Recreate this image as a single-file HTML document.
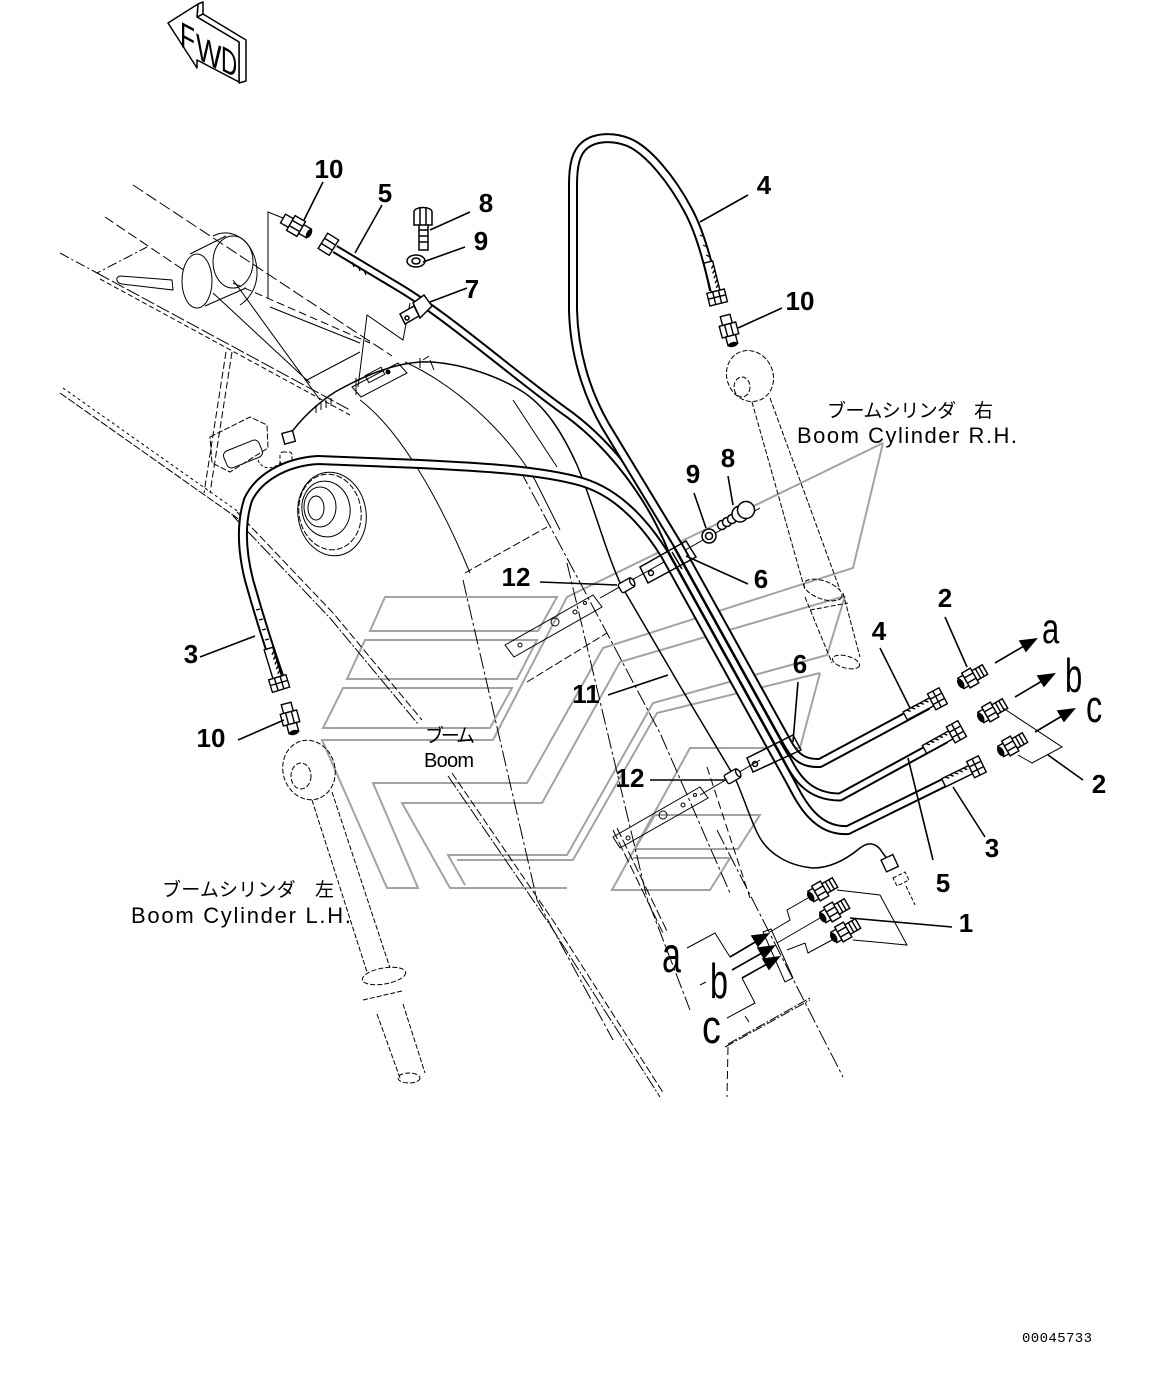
<!DOCTYPE html>
<html><head><meta charset="utf-8"><style>
html,body{margin:0;padding:0;background:#fff;}
svg{display:block;}
.n{font-family:"Liberation Sans",sans-serif;font-weight:bold;font-size:26px;fill:#000;text-anchor:middle;}
.L{font-family:"Liberation Sans",sans-serif;fill:#000;}
.t{font-family:"Liberation Sans","Noto Sans CJK JP",sans-serif;fill:#000;}
</style></head><body>
<svg width="1166" height="1377" viewBox="0 0 1166 1377" xmlns="http://www.w3.org/2000/svg">
<defs>
<g id="f2" stroke="#000" stroke-width="1.4" fill="#fff">
<rect x="-13" y="-6" width="6" height="12"/>
<ellipse cx="-13" cy="0" rx="3" ry="5.5" fill="#000" stroke="none"/>
<rect x="-7" y="-8.5" width="10" height="17"/>
<line x1="-7" y1="-3" x2="3" y2="-3"/><line x1="-7" y1="3" x2="3" y2="3"/>
<rect x="3" y="-5.5" width="12" height="11"/>
<path d="M7,-5.5v11 M11,-5.5v11" fill="none"/>
</g>
<g id="f10" stroke="#000" stroke-width="1.4" fill="#fff">
<rect x="-15" y="-5" width="9" height="10"/>
<rect x="-6" y="-8.5" width="12" height="17"/>
<line x1="-6" y1="-3" x2="6" y2="-3"/><line x1="-6" y1="3" x2="6" y2="3"/>
<rect x="6" y="-5" width="9" height="10"/>
<ellipse cx="15" cy="0" rx="2.5" ry="5" fill="#000" stroke="none"/>
</g>
<g id="hend" stroke="#000" stroke-width="1.4" fill="#fff">
<rect x="-36" y="-4.5" width="30" height="9"/>
<path d="M-32,-4.5 l3,3 M-27,-4.5 l3,3 M-22,-4.5 l3,3 M-17,-4.5 l3,3 M-12,-4.5 l3,3" fill="none"/>
<rect x="-6" y="-9" width="13" height="18"/>
<line x1="-6" y1="-3" x2="7" y2="-3"/><line x1="-6" y1="3" x2="7" y2="3"/>
<line x1="0" y1="-9" x2="0" y2="9"/>
</g>
<g id="c12" stroke="#000" stroke-width="1.4" fill="#fff">
<rect x="-8" y="-5" width="15" height="10" rx="2"/>
<ellipse cx="6" cy="0" rx="2" ry="4"/>
</g>
</defs>

<!-- WATERMARK -->
<g fill="none" stroke="#a3a3a3" stroke-width="2" stroke-linejoin="miter">
<polygon points="385,597 557,597 538,631 370,631"/>
<polygon points="365,640 537,640 517,679 347,679"/>
<polygon points="343,688 512,688 490,728 323,728"/>
<polyline points="883,443 567,597 493,740 322,740 387,888 418,888 373,783 527,783 603,648 853,568 883,443"/>
<polyline points="845,596 620,662 542,803 402,803 450,888 567,888"/>
<polyline points="845,596 827,655 653,703 567,855 448,855 465,885"/>
<polyline points="820,673 657,713 573,860 457,860"/>
<polyline points="820,673 800,748 690,748 612,890 710,890 730,858 633,858"/>
<polygon points="655,815 760,815 738,849 635,849"/>
</g>

<!-- FWD arrow -->
<g fill="#fff" stroke="#000" stroke-width="1.5" stroke-linejoin="round">
<polygon points="197,17 203,14 246,40 246,81 239,83 239,42"/>
<polygon points="198,4 203,2 203,14 197,17"/>
<polygon points="168,23 198,4 197,17 239,42 239,82 197,60 197,68"/>
</g>
<g class="L" font-size="36">
<text transform="translate(180,46) skewY(28) scale(0.68,1)">F</text>
<text transform="translate(196,58) skewY(28) scale(0.75,1)">W</text>
<text transform="translate(221,70) skewY(28) scale(0.62,1)">D</text>
</g>

<!-- upper-left boom structure -->
<g fill="none" stroke="#000" stroke-width="1">
<path d="M133,185 L392,356" stroke-dasharray="12 4"/>
<path d="M105,217 L197,279" stroke-dasharray="10 4"/>
<path d="M60,253 L97,273 L147,247" stroke-dasharray="10 3 2 3"/>
<path d="M97,273 L350,410" stroke-dasharray="14 3"/>
<path d="M100,279 L350,415" stroke-dasharray="5 3"/>
<path d="M60,393 L240,520" stroke-dasharray="8 2"/>
<path d="M63,388 L243,515" stroke-dasharray="3 3"/>
<path d="M232,352 L210,493" stroke-dasharray="7 3"/>
<path d="M226,352 L204,493" stroke-dasharray="7 3"/>
<!-- pivot -->
<ellipse cx="233" cy="262" rx="20" ry="26"/>
<path d="M190,254 L226,236 M205,306 L246,288"/>
<ellipse cx="197" cy="281" rx="15" ry="27" fill="#fff"/>
<path d="M213,236 C235,225 258,245 257,275 C256,290 248,300 240,305"/>
<path d="M120,276 L172,280 L173,290 L122,284 C116,283 115,277 120,276 Z" fill="#fff"/>
<path d="M233,280 L320,400 M213,293 L310,383 M270,307 L360,343 M307,380 L360,352"/>
<path d="M233,283 L370,343" stroke-dasharray="8 4"/>
<path d="M268,298 L268,212 L283,218"/>
<path d="M358,387 L367,315 L403,340 L410,303"/>
<!-- sensor box -->
<polygon points="210,437 250,417 267,425 268,448 230,472 212,463" stroke-dasharray="6 2"/>
<rect x="224" y="445" width="38" height="18" rx="5" transform="rotate(-22 243 454)"/>
<rect x="280" y="452" width="12" height="13" rx="3" stroke-dasharray="4 2"/>
<path d="M258,460 C262,470 272,470 282,462" stroke-dasharray="3 2"/>
<!-- small plate near wire -->
<polygon points="352,387 398,363 407,373 361,397"/>
<rect x="366" y="371" width="18" height="8" transform="rotate(-28 375 375)"/>
<circle cx="388" cy="372" r="2" fill="#000"/>
<path d="M356,378 L356,395 M430,360 l4,10" />
</g>
<!-- wire 11 -->
<path d="M288,437 C300,420 315,405 335,392 C360,378 390,364 420,362 C450,361 490,372 520,390 C545,405 562,432 577,465 C592,500 605,550 621,585 L680,686 L735,778 C745,800 752,825 760,838 C770,855 790,866 813,868 C832,868 848,858 860,848 C868,842 876,842 882,852 L888,860" fill="none" stroke="#000" stroke-width="1.5"/>
<g stroke="#000" stroke-width="1" fill="none">
<path d="M316,405 v8 M321,402 v8 M326,400 v8 M331,398 v8 M420,358 v10 M423,360 l6,-4"/>
</g>
<rect x="283" y="432" width="11" height="11" fill="#fff" stroke="#000" stroke-width="1.4" transform="rotate(-15 288 437)"/>
<rect x="883" y="857" width="13" height="13" fill="#fff" stroke="#000" stroke-width="1.4" transform="rotate(-25 889 863)"/>
<path d="M893,878 l12,-6 l4,8 l-12,6 Z M906,886 L915,905" fill="none" stroke="#000" stroke-width="1" stroke-dasharray="4 2"/>

<!-- boom lines -->
<g fill="none" stroke="#000" stroke-width="1">
<path d="M233,516 L330,618 L418,724" stroke-dasharray="14 2 2 2"/>
<path d="M237,512 L334,614 L422,720" stroke-dasharray="8 3"/>
<path d="M448,776 L550,925 L660,1097" stroke-dasharray="14 2 2 2"/>
<path d="M452,773 L554,922 L664,1094" stroke-dasharray="8 3"/>
<path d="M360,400 C400,430 440,500 470,573"/>
<path d="M405,362 C455,385 505,430 535,480 L560,530"/>
<path d="M513,400 L557,467"/>
<path d="M520,470 L600,620 L660,733 L730,893" stroke-dasharray="16 3 3 3"/>
<path d="M463,580 L537,900 L613,1040" stroke-dasharray="16 3 3 3"/>
<path d="M567,563 L647,898 L690,1010" stroke-dasharray="16 3 3 3"/>
<path d="M613,830 L663,933 M617,828 L667,931" stroke-dasharray="10 3"/>
<path d="M717,830 L843,1077" stroke-dasharray="16 3 3 3"/>
<path d="M707,767 L750,898" stroke-dasharray="8 4"/>
<path d="M465,573 L547,527 M527,682 L607,633" stroke-dasharray="8 3"/>
<path d="M760,508 L600,598 M760,760 L700,795"/>
<!-- dimension plates -->
<polygon points="505,645 593,595 602,607 514,657"/>
<circle cx="555" cy="622" r="4"/><circle cx="575" cy="612" r="2"/><circle cx="520" cy="645" r="2"/><circle cx="585" cy="603" r="1.5"/>
<polygon points="613,837 700,787 708,798 620,848"/>
<circle cx="663" cy="815" r="4"/><circle cx="683" cy="805" r="2"/><circle cx="628" cy="838" r="2"/><circle cx="695" cy="795" r="1.5"/>
<!-- bottom plate & hatch -->
<polygon points="763,932 771,929 793,978 785,982"/>
<path d="M725,1047 L810,1000 M728,1044 L810,998" stroke-dasharray="10 2 2 2"/>
<path d="M728,1047 L727,1097" stroke-dasharray="8 4"/>
<path d="M700,985 l6,-3 M745,1016 l4,6"/>
</g>

<!-- boom pivot (center) -->
<g fill="none" stroke="#000" stroke-width="1">
<ellipse cx="332" cy="514" rx="34" ry="42" transform="rotate(-10 332 514)"/>
<ellipse cx="330" cy="512" rx="31" ry="38" transform="rotate(-10 330 512)" stroke-dasharray="6 2"/>
<ellipse cx="326" cy="509" rx="24" ry="28" transform="rotate(-10 326 509)"/>
<ellipse cx="320" cy="507" rx="16" ry="20"/>
<ellipse cx="316" cy="508" rx="8" ry="12"/>
</g>

<!-- R.H. cylinder (dashed) -->
<g fill="none" stroke="#000" stroke-width="1" stroke-dasharray="5 2">
<ellipse cx="750" cy="376" rx="23" ry="26" transform="rotate(-25 750 376)"/>
<ellipse cx="742" cy="387" rx="8" ry="10"/>
<path d="M752,402 L805,590 M770,398 L840,590"/>
<ellipse cx="823" cy="590" rx="20" ry="9" transform="rotate(20 823 590)"/>
<path d="M805,597 L832,663 M843,593 L860,657"/>
<ellipse cx="846" cy="662" rx="14" ry="6" transform="rotate(15 846 662)"/>
<path d="M810,610 L848,603"/>
</g>
<!-- L.H. cylinder (dashed) -->
<g fill="none" stroke="#000" stroke-width="1" stroke-dasharray="5 2">
<ellipse cx="309" cy="770" rx="26" ry="30" transform="rotate(-15 309 770)"/>
<ellipse cx="301" cy="776" rx="10" ry="13"/>
<path d="M312,800 L367,972 M332,792 L390,968"/>
<ellipse cx="384" cy="976" rx="22" ry="8" transform="rotate(-10 384 976)"/>
<path d="M363,1000 L402,991 M377,1014 L400,1078 M403,1004 L425,1073"/>
<ellipse cx="409" cy="1078" rx="11" ry="5"/>
</g>

<!-- HOSES -->
<g fill="none" stroke-linejoin="round" stroke-linecap="butt">
<path d="M279,676 C270,650 258,612 249,580 C242,552 240,525 248,500 C258,478 285,462 318,460 L420,464 C480,467 540,470 582,482 C615,492 642,518 665,555 L790,781 C800,800 815,832 848,830 L968,771" stroke="#000" stroke-width="10"/>
<path d="M279,676 C270,650 258,612 249,580 C242,552 240,525 248,500 C258,478 285,462 318,460 L420,464 C480,467 540,470 582,482 C615,492 642,518 665,555 L790,781 C800,800 815,832 848,830 L968,771" stroke="#fff" stroke-width="6"/>
<path d="M335,249 L400,288 C450,318 520,380 570,415 C610,445 650,495 672,551 L786,757 C794,772 805,797 840,797 L946,739" stroke="#000" stroke-width="9"/>
<path d="M335,249 L400,288 C450,318 520,380 570,415 C610,445 650,495 672,551 L786,757 C794,772 805,797 840,797 L946,739" stroke="#fff" stroke-width="5"/>
<path d="M714,290 C708,262 700,232 688,210 C672,180 648,150 628,142 C612,136 595,137 585,145 C576,152 573,165 573,185 L573,310 C574,350 585,390 605,425 L679,547 L787,742 C793,753 800,764 820,763 L928,705" stroke="#000" stroke-width="10"/>
<path d="M714,290 C708,262 700,232 688,210 C672,180 648,150 628,142 C612,136 595,137 585,145 C576,152 573,165 573,185 L573,310 C574,350 585,390 605,425 L679,547 L787,742 C793,753 800,764 820,763 L928,705" stroke="#fff" stroke-width="6"/>
</g>
<!-- hose ticks -->
<g stroke="#000" stroke-width="1.2" fill="none">
<path d="M700,235 l4,2 M703,245 l4,2 M706,255 l4,2 M708,265 l4,2"/>
<path d="M256,610 l4,-1 M259,620 l4,-1 M262,630 l4,-1 M265,640 l4,-1"/>
<path d="M352,262 l2,5 M358,266 l2,5 M364,270 l2,5"/>
</g>
<!-- hose ends -->
<use href="#hend" transform="translate(937,699) rotate(-28)"/>
<use href="#hend" transform="translate(956,732) rotate(-29)"/>
<use href="#hend" transform="translate(976,767) rotate(-26)"/>
<use href="#hend" transform="translate(717,297) rotate(76)"/>
<use href="#hend" transform="translate(279,683) rotate(73)"/>
<g transform="translate(328,244) rotate(212)" stroke="#000" stroke-width="1.4" fill="#fff">
<rect x="-7" y="-9" width="13" height="18"/><line x1="-7" y1="-3" x2="6" y2="-3"/><line x1="-7" y1="3" x2="6" y2="3"/>
</g>

<!-- brackets 6 -->
<g fill="none" stroke="#000" stroke-width="1.5">
<polygon points="640,567 686,541 696,557 648,583"/>
<path d="M672,552 L682,569"/>
<circle cx="651" cy="573" r="2.5"/>
<polygon points="747,758 793,735 801,750 753,772"/>
<path d="M780,742 L789,757"/>
<circle cx="755" cy="764" r="2.5"/>
</g>
<!-- clamp 7 -->
<g fill="#fff" stroke="#000" stroke-width="1.5">
<path d="M413,303 L424,295 L432,306 L420,318 Z"/>
<polygon points="400,314 414,306 419,316 405,324"/>
<circle cx="407" cy="318" r="2"/>
</g>
<!-- clamps 12 -->
<use href="#c12" transform="translate(627,585) rotate(-30)"/>
<use href="#c12" transform="translate(733,776) rotate(-30)"/>

<!-- bolts & washers -->
<g fill="#fff" stroke="#000" stroke-width="1.5">
<rect x="419" y="224" width="9" height="26"/>
<path d="M419,230 h9 M419,236 h9 M419,242 h9" />
<path d="M414,225 L414,212 C414,206 432,206 432,212 L432,225 Z"/>
<line x1="420" y1="208" x2="420" y2="225"/><line x1="426" y1="208" x2="426" y2="225"/>
<ellipse cx="416" cy="261" rx="9" ry="6"/><ellipse cx="416" cy="261" rx="4" ry="3"/>
<circle cx="722" cy="525" r="4.5"/><circle cx="727" cy="522" r="4.5"/><circle cx="732" cy="519" r="4.5"/>
<circle cx="740" cy="514" r="8"/><circle cx="746" cy="510" r="8.5"/>
<circle cx="709" cy="536" r="7"/><circle cx="709" cy="536" r="3.5"/>
</g>

<!-- fittings -->
<use href="#f10" transform="translate(296,226) rotate(30)"/>
<use href="#f10" transform="translate(729,330) rotate(75)"/>
<use href="#f10" transform="translate(290,718) rotate(75)"/>
<use href="#f2" transform="translate(972,677) rotate(-30)"/>
<use href="#f2" transform="translate(992,711) rotate(-30)"/>
<use href="#f2" transform="translate(1012,745) rotate(-30)"/>
<use href="#f2" transform="translate(822,890) rotate(-30)"/>
<use href="#f2" transform="translate(834,911) rotate(-30)"/>
<use href="#f2" transform="translate(845,931) rotate(-30)"/>

<!-- leaders -->
<g fill="none" stroke="#000" stroke-width="1.6">
<path d="M323,182 L304,220"/>
<path d="M382,205 L355,253"/>
<path d="M470,212 L430,230"/>
<path d="M465,247 L423,262"/>
<path d="M467,288 L430,302"/>
<path d="M748,195 L700,222"/>
<path d="M782,308 L738,328"/>
<path d="M694,493 L706,528"/>
<path d="M728,476 L733,505"/>
<path d="M748,584 L686,556"/>
<path d="M540,582 L617,585"/>
<path d="M608,695 L668,675"/>
<path d="M650,780 L725,780"/>
<path d="M798,682 L793,742"/>
<path d="M200,657 L255,636"/>
<path d="M238,740 L284,720"/>
<path d="M880,648 L910,708"/>
<path d="M945,617 L967,667"/>
<path d="M953,787 L985,837"/>
<path d="M908,758 L933,860"/>
<path d="M1048,755 L1083,780"/>
<path d="M850,918 L952,927"/>
</g>
<g fill="none" stroke="#000" stroke-width="1">
<path d="M1003,708 L1062,747 L1032,763 L1018,755"/>
<path d="M837,890 L880,895 L907,945 L853,940"/>
<path d="M808,898 L787,910 L790,920 L770,932"/>
<path d="M820,918 L777,943"/>
<path d="M832,940 L808,953 L805,943 L787,950"/>
<path d="M687,948 L715,933 L730,957"/>
<path d="M742,978 L755,1003 L727,1018"/>
</g>
<!-- arrows -->
<g stroke="#000" stroke-width="1.6" fill="#000">
<path d="M995,663 L1024,646" fill="none"/><polygon points="1036,639 1020,641 1026,651"/>
<path d="M1015,697 L1042,681" fill="none"/><polygon points="1054,674 1038,676 1044,686"/>
<path d="M1035,732 L1062,716" fill="none"/><polygon points="1074,709 1058,711 1064,721"/>
<path d="M730,957 L757,941" fill="none"/><polygon points="768,934 752,936 758,946"/>
<path d="M732,970 L762,953" fill="none"/><polygon points="774,946 758,948 764,958"/>
<path d="M742,978 L767,964" fill="none"/><polygon points="779,957 763,959 769,969"/>
</g>

<!-- number labels -->
<text class="n" x="329" y="178">10</text>
<text class="n" x="385" y="202">5</text>
<text class="n" x="486" y="212">8</text>
<text class="n" x="481" y="250">9</text>
<text class="n" x="472" y="298">7</text>
<text class="n" x="764" y="194">4</text>
<text class="n" x="800" y="310">10</text>
<text class="n" x="693" y="483">9</text>
<text class="n" x="728" y="467">8</text>
<text class="n" x="761" y="588">6</text>
<text class="n" x="516" y="586">12</text>
<text class="n" x="586" y="703">11</text>
<text class="n" x="630" y="787">12</text>
<text class="n" x="800" y="673">6</text>
<text class="n" x="191" y="663">3</text>
<text class="n" x="211" y="747">10</text>
<text class="n" x="879" y="640">4</text>
<text class="n" x="945" y="607">2</text>
<text class="n" x="1099" y="793">2</text>
<text class="n" x="992" y="857">3</text>
<text class="n" x="943" y="892">5</text>
<text class="n" x="966" y="932">1</text>

<!-- letters a b c -->
<text class="L" font-size="43" transform="translate(1042,643) scale(0.72,1)">a</text>
<text class="L" font-size="47" transform="translate(1065,692) scale(0.66,1)">b</text>
<text class="L" font-size="45" transform="translate(1086,722) scale(0.72,1)">c</text>
<text class="L" font-size="50" transform="translate(662,972) scale(0.68,1)">a</text>
<text class="L" font-size="49" transform="translate(710,998) scale(0.66,1)">b</text>
<text class="L" font-size="47" transform="translate(702,1043) scale(0.8,1)">c</text>

<!-- text labels -->
<text class="t" x="827" y="417" font-size="19" textLength="166" lengthAdjust="spacing">ブームシリンダ　右</text>
<text class="t" x="797" y="443" font-size="22" textLength="220" lengthAdjust="spacing">Boom Cylinder R.H.</text>
<text class="t" x="425" y="742" font-size="19" textLength="50" lengthAdjust="spacing">ブーム</text>
<text class="t" x="424" y="767" font-size="20" textLength="50" lengthAdjust="spacing">Boom</text>
<text class="t" x="162" y="896" font-size="19" textLength="172" lengthAdjust="spacing">ブームシリンダ　左</text>
<text class="t" x="131" y="923" font-size="22" textLength="220" lengthAdjust="spacing">Boom Cylinder L.H.</text>
<text x="1022" y="1342" font-family="Liberation Mono, monospace" font-size="14" textLength="70" lengthAdjust="spacing" fill="#000">00045733</text>
</svg>
</body></html>
